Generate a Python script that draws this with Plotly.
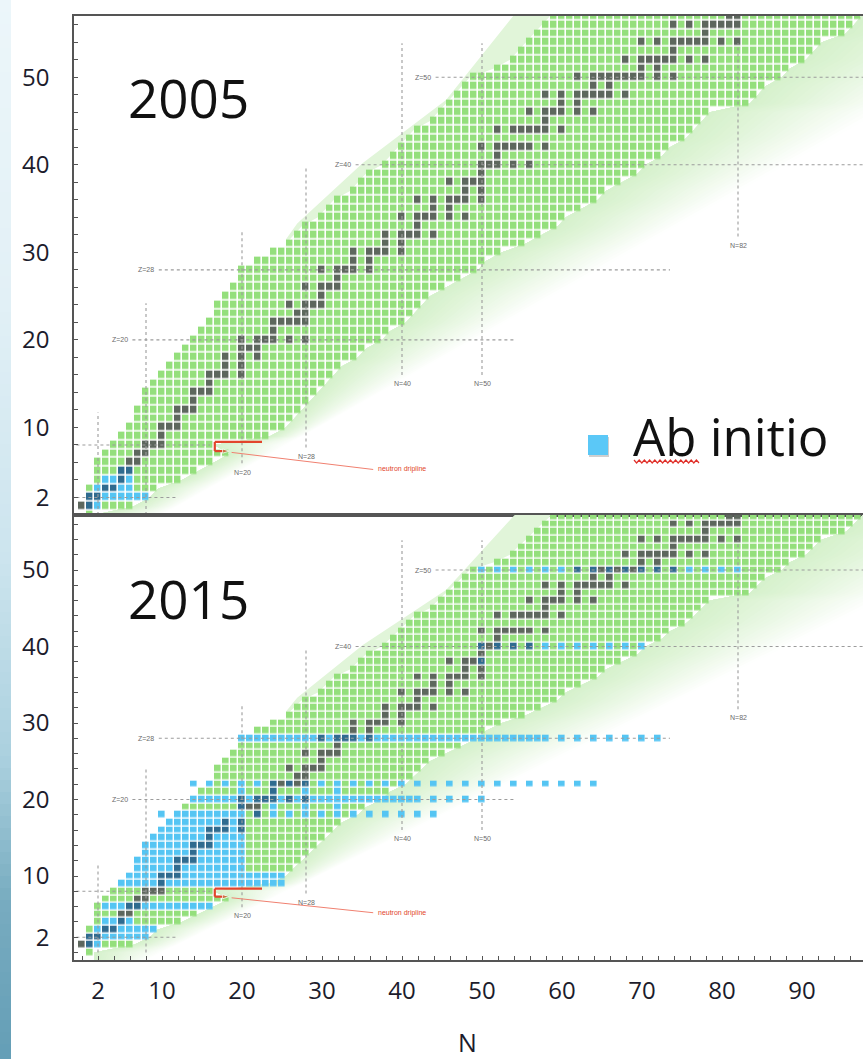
import plotly.graph_objects as go

FIG_W, FIG_H = 863, 1059

# ---------------- nuclide chart data ----------------
# proton number of each row of the chart
Z_VALUES = list(range(58))

# lightest / heaviest known neutron number for each Z
N_MIN = [1, 0, 1, 1, 2, 2, 2, 3, 4, 5, 6, 7, 7, 8, 8, 9, 10, 11, 12, 13,
         14, 15, 16, 17, 17, 18, 19, 20, 20, 22, 24, 26, 27, 28, 30, 31, 32, 34, 35, 36,
         38, 39, 40, 41, 42, 44, 45, 46, 47, 48, 49, 52, 54, 55, 56, 57, 58, 59]
N_MAX = [1, 6, 8, 9, 12, 14, 16, 18, 16, 23, 25, 26, 27, 28, 29, 30, 31, 32, 34, 35,
         37, 38, 40, 41, 42, 43, 45, 47, 49, 50, 52, 55, 57, 59, 60, 62, 64, 65, 67, 69,
         70, 72, 73, 75, 76, 77, 78, 83, 84, 85, 87, 88, 90, 91, 92, 95, 96, 97]

# stable isotopes: neutron numbers per Z
STABLE_N = [
    [],                                         # n
    [0, 1],                                     # H
    [1, 2],                                     # He
    [3, 4],                                     # Li
    [5],                                        # Be
    [5, 6],                                     # B
    [6, 7],                                     # C
    [7, 8],                                     # N
    [8, 9, 10],                                 # O
    [10],                                       # F
    [10, 11, 12],                               # Ne
    [12],                                       # Na
    [12, 13, 14],                               # Mg
    [14],                                       # Al
    [14, 15, 16],                               # Si
    [16],                                       # P
    [16, 17, 18, 20],                           # S
    [18, 20],                                   # Cl
    [18, 20, 22],                               # Ar
    [20, 21, 22],                               # K
    [20, 22, 23, 24, 26, 28],                   # Ca
    [24],                                       # Sc
    [24, 25, 26, 27, 28],                       # Ti
    [27, 28],                                   # V
    [26, 28, 29, 30],                           # Cr
    [30],                                       # Mn
    [28, 30, 31, 32],                           # Fe
    [32],                                       # Co
    [30, 32, 33, 34, 36],                       # Ni
    [34, 36],                                   # Cu
    [34, 36, 37, 38, 40],                       # Zn
    [38, 40],                                   # Ga
    [38, 40, 41, 42, 44],                       # Ge
    [42],                                       # As
    [40, 42, 43, 44, 46, 48],                   # Se
    [44, 46],                                   # Br
    [42, 44, 46, 47, 48, 50],                   # Kr
    [48, 50],                                   # Rb
    [46, 48, 49, 50],                           # Sr
    [50],                                       # Y
    [50, 51, 52, 54, 56],                       # Zr
    [52],                                       # Nb
    [50, 52, 53, 54, 55, 56, 58],               # Mo
    [],                                         # Tc
    [52, 54, 55, 56, 57, 58, 60],               # Ru
    [58],                                       # Rh
    [56, 58, 59, 60, 62, 64],                   # Pd
    [60, 62],                                   # Ag
    [58, 60, 62, 63, 64, 65, 66, 68],           # Cd
    [64, 66],                                   # In
    [62, 64, 65, 66, 67, 68, 69, 70, 72, 74],   # Sn
    [70, 72],                                   # Sb
    [68, 70, 71, 72, 73, 74, 76, 78],           # Te
    [74],                                       # I
    [70, 72, 74, 75, 76, 77, 78, 80, 82],       # Xe
    [78],                                       # Cs
    [74, 76, 78, 79, 80, 81, 82],               # Ba
    [81, 82],                                   # La
]

# ab initio coverage, as runs of cells: row Z, first N, last N, step in N
AB2005_Z = [1, 2, 3, 4, 5]
AB2005_N0 = [1, 1, 2, 3, 5]
AB2005_N1 = [2, 8, 6, 6, 6]
AB2005_STEP = [1, 1, 1, 1, 1]

AB2015_Z = [1, 2, 3, 4, 6, 9, 10, 11, 12, 13, 14, 15, 16, 17,
            18, 18, 19, 20, 20, 21, 22, 28, 28, 38, 40, 50]
AB2015_N0 = [1, 1, 2, 3, 3, 5, 6, 7, 7, 8, 8, 9, 10, 11,
             10, 12, 20, 14, 44, 20, 14, 20, 60, 50, 50, 50]
AB2015_N1 = [2, 8, 9, 6, 16, 25, 25, 20, 20, 20, 20, 20, 20, 20,
             44, 20, 32, 42, 50, 32, 64, 58, 72, 50, 70, 82]
AB2015_STEP = [1, 1, 1, 1, 1, 1, 1, 1, 1, 1, 1, 1, 1, 1,
               2, 1, 4, 1, 2, 4, 2, 1, 2, 1, 2, 2]

# magic-number guide lines
MAGIC_H_Z = [2, 8, 20, 28, 40, 50]
MAGIC_H_N0 = [-0.7, -0.7, 6.3, 9.6, 34.2, 44.2]
MAGIC_H_N1 = [12.0, 16.0, 54.0, 73.5, 99.0, 99.0]
MAGIC_H_LABEL = ["", "", "Z=20", "Z=28", "Z=40", "Z=50"]

MAGIC_V_N = [2, 8, 20, 28, 40, 50, 82]
MAGIC_V_Z0 = [0.0, 0.0, 5.9, 7.7, 16.0, 16.0, 31.8]
MAGIC_V_Z1 = [11.7, 24.2, 32.3, 39.6, 53.9, 53.9, 53.9]
MAGIC_V_LABEL = ["", "", "N=20", "N=28", "N=40", "N=50", "N=82"]

# neutron drip-line marker around oxygen
DRIP_N = [22.5, 16.6, 16.6, 18.4]
DRIP_Z = [8.35, 8.35, 7.3, 7.3]
DRIP_LEADER_N = [18.7, 36.4]
DRIP_LEADER_Z = [7.15, 5.2]

# edge of the predicted (unknown) region
PROTON_BAND_N = [25.5, 26.9, 35.1, 45.5, 53.9, 57.0]
PROTON_BAND_Z = [31.5, 33.3, 40.2, 47.4, 57.0, 60.0]
FAR_EDGE_N = [10.0, 127.0]
FAR_EDGE_Z = [0.0, 60.0]

N_TICKS = [2, 10, 20, 30, 40, 50, 60, 70, 80, 90]
Z_TICKS = [2, 10, 20, 30, 40, 50]

# ---------------- styling ----------------
GREEN = "#94df7c"
STABLE = "#5d675d"
BLUE = "#55c5f3"
BLUE_STABLE = "#2f6b8f"
GUIDE = "#9c9c9c"
RED = "#e2452c"
AXIS = "#555555"
TEXT = "#1c1c2c"
FONT = "Open Sans"

N_SIZE = 98  # columns 0..97


def build_grid(ab_z, ab_n0, ab_n1, ab_step):
    grid = [[None] * N_SIZE for _ in Z_VALUES]
    for z in Z_VALUES:
        for n in range(N_MIN[z], N_MAX[z] + 1):
            grid[z][n] = 1
        for n in STABLE_N[z]:
            grid[z][n] = 2
    for z, a, b, s in zip(ab_z, ab_n0, ab_n1, ab_step):
        for n in range(a, b + 1, s):
            grid[z][n] = 4 if grid[z][n] == 2 else 3
    return grid


def far_n(z):
    t = (z - FAR_EDGE_Z[0]) / (FAR_EDGE_Z[1] - FAR_EDGE_Z[0])
    return FAR_EDGE_N[0] + t * (FAR_EDGE_N[1] - FAR_EDGE_N[0])


def path(points):
    return "M " + " L ".join(f"{x:.3f},{y:.3f}" for x, y in points) + " Z"


def background_shapes(xref, yref):
    shapes = []
    # neutron-rich side: soft green fading towards the far edge
    zs = [-1.5] + Z_VALUES + [58.5]
    near = [N_MAX[0] + 0.5] + [N_MAX[z] + 0.5 for z in Z_VALUES] + [N_MAX[-1] + 1.5]
    far = [far_n(z) for z in zs]
    steps = 24
    c0 = (214, 241, 204)
    for k in range(steps, 0, -1):
        f = k / steps
        edge = [nr + (fr - nr) * f for nr, fr in zip(near, far)]
        pts = list(zip(near, zs)) + list(zip(edge, zs))[::-1]
        mix = (k - 0.5) / steps
        col = tuple(round(c + (255 - c) * mix ** 1.15) for c in c0)
        shapes.append(dict(type="path", path=path(pts), xref=xref, yref=yref,
                           fillcolor=f"rgb{col}", line=dict(width=0), layer="below"))
    # proton-rich side: pale band
    inner = [(N_MIN[z] - 0.5, z) for z in range(57, 30, -1)]
    pts = list(zip(PROTON_BAND_N, PROTON_BAND_Z)) + [(62.0, 60.0)] + inner
    shapes.append(dict(type="path", path=path(pts), xref=xref, yref=yref,
                       fillcolor="#e1f5d9", line=dict(width=0), layer="below"))
    return shapes


fig = go.Figure()

colorscale = [[0.0, GREEN], [0.25, GREEN], [0.25, STABLE], [0.5, STABLE],
              [0.5, BLUE], [0.75, BLUE], [0.75, BLUE_STABLE], [1.0, BLUE_STABLE]]

panels = [
    ("x", "y", build_grid(AB2005_Z, AB2005_N0, AB2005_N1, AB2005_STEP), 1.6),
    ("x2", "y2", build_grid(AB2015_Z, AB2015_N0, AB2015_N1, AB2015_STEP), 1.4),
]

shapes = []
annotations = []
for xa, ya, grid, gap in panels:
    fig.add_trace(go.Heatmap(
        x=list(range(N_SIZE)), y=Z_VALUES, z=grid, xaxis=xa, yaxis=ya,
        colorscale=colorscale, zmin=0.5, zmax=4.5, showscale=False,
        xgap=gap, ygap=gap, hoverinfo="skip"))
    shapes += background_shapes(xa, ya)

    for z, n0, n1, lab in zip(MAGIC_H_Z, MAGIC_H_N0, MAGIC_H_N1, MAGIC_H_LABEL):
        fig.add_trace(go.Scatter(x=[n0, n1], y=[z, z], mode="lines", xaxis=xa, yaxis=ya,
                                 line=dict(color=GUIDE, width=1.1, dash="3px,3px"),
                                 hoverinfo="skip", showlegend=False))
        if lab:
            annotations.append(dict(x=n0 - 0.3, y=z, xref=xa, yref=ya, text=lab,
                                    showarrow=False, xanchor="right", yanchor="middle",
                                    font=dict(size=7, color="#6a6a6a", family="Arial")))
    for n, z0, z1, lab in zip(MAGIC_V_N, MAGIC_V_Z0, MAGIC_V_Z1, MAGIC_V_LABEL):
        fig.add_trace(go.Scatter(x=[n, n], y=[z0, z1], mode="lines", xaxis=xa, yaxis=ya,
                                 line=dict(color=GUIDE, width=1.1, dash="3px,3px"),
                                 hoverinfo="skip", showlegend=False))
        if lab:
            annotations.append(dict(x=n, y=z0 - 0.4, xref=xa, yref=ya, text=lab,
                                    showarrow=False, xanchor="center", yanchor="top",
                                    font=dict(size=7, color="#6a6a6a", family="Arial")))

    fig.add_trace(go.Scatter(x=DRIP_LEADER_N, y=DRIP_LEADER_Z, mode="lines",
                             xaxis=xa, yaxis=ya, line=dict(color="#f08070", width=1),
                             hoverinfo="skip", showlegend=False))
    fig.add_trace(go.Scatter(x=DRIP_N, y=DRIP_Z, mode="lines+markers", xaxis=xa, yaxis=ya,
                             line=dict(color=RED, width=2.2),
                             marker=dict(symbol="arrow", angleref="previous",
                                         size=[0, 0, 0, 7], color=RED),
                             hoverinfo="skip", showlegend=False))
    annotations.append(dict(x=DRIP_LEADER_N[1] + 0.3, y=DRIP_LEADER_Z[1], xref=xa, yref=ya,
                            text="neutron dripline", showarrow=False, xanchor="left",
                            yanchor="middle", font=dict(size=7, color=RED, family="Arial")))


def px_x(p):
    return p / FIG_W


def px_y(p):
    return 1 - p / FIG_H


TOP_Y0, TOP_Y1 = 16, 515
BOT_Y0, BOT_Y1 = 515, 960
PLOT_X0 = 74

axis_common = dict(showgrid=False, zeroline=False, showline=True, linecolor=AXIS,
                   linewidth=1.5, ticks="inside", ticklen=4, tickcolor=AXIS,
                   tickfont=dict(family=FONT, size=24, color=TEXT))

x_range = [-1.0, -1.0 + (FIG_W - PLOT_X0) / 8.0]

fig.update_layout(
    width=FIG_W, height=FIG_H, margin=dict(l=0, r=0, t=0, b=0),
    paper_bgcolor="white", plot_bgcolor="white", showlegend=False,
    xaxis=dict(axis_common, domain=[px_x(PLOT_X0), 1], range=x_range, anchor="y",
               showticklabels=False, ticks="", mirror=True),
    yaxis=dict(axis_common, domain=[px_y(TOP_Y1), px_y(TOP_Y0)], range=[0, 57],
               anchor="x", tickvals=Z_TICKS, ticklabelstandoff=18,
               minor=dict(tickmode="linear", tick0=0, dtick=2, ticks="inside",
                          ticklen=4, tickcolor=AXIS)),
    xaxis2=dict(axis_common, domain=[px_x(PLOT_X0), 1], range=x_range, anchor="y2",
                tickvals=N_TICKS, ticklabelstandoff=8, mirror=True,
                minor=dict(tickmode="linear", tick0=0, dtick=2, ticks="inside",
                           ticklen=4, tickcolor=AXIS)),
    yaxis2=dict(axis_common, domain=[px_y(BOT_Y1), px_y(BOT_Y0)],
                range=[-0.98, 57.19], anchor="x2", tickvals=Z_TICKS, ticklabelstandoff=18,
                minor=dict(tickmode="linear", tick0=0, dtick=2, ticks="inside",
                           ticklen=4, tickcolor=AXIS)),
)

# slide edge on the far left
STRIP_STOPS_Y = [0, 300, 560, 760, 900, 1059]
STRIP_STOPS_RGB = [(236, 246, 250), (226, 240, 246), (204, 228, 238),
                   (170, 208, 222), (120, 172, 192), (100, 158, 182)]
seg = 12
for i in range(0, FIG_H, seg):
    yy = i + seg / 2
    for j in range(len(STRIP_STOPS_Y) - 1):
        if STRIP_STOPS_Y[j] <= yy <= STRIP_STOPS_Y[j + 1]:
            t = (yy - STRIP_STOPS_Y[j]) / (STRIP_STOPS_Y[j + 1] - STRIP_STOPS_Y[j])
            a, b = STRIP_STOPS_RGB[j], STRIP_STOPS_RGB[j + 1]
            col = tuple(round(a[k] + (b[k] - a[k]) * t) for k in range(3))
            break
    shapes.append(dict(type="rect", xref="paper", yref="paper", x0=0, x1=px_x(11),
                       y0=px_y(min(i + seg + 1, FIG_H)), y1=px_y(i), fillcolor=f"rgb{col}",
                       line=dict(width=0), layer="below"))

# legend key
shapes.append(dict(type="rect", xref="paper", yref="paper", x0=px_x(589), x1=px_x(609),
                   y0=px_y(457), y1=px_y(437), fillcolor="#cfcfcf", line=dict(width=0)))
shapes.append(dict(type="rect", xref="paper", yref="paper", x0=px_x(588), x1=px_x(608),
                   y0=px_y(455), y1=px_y(435), fillcolor="#5bc8f7", line=dict(width=0)))
# spell-check squiggle under "Ab"
wave = []
xw = 634.0
up = True
while xw <= 701:
    wave.append((px_x(xw), px_y(460.0 if up else 463.0)))
    up = not up
    xw += 2.6
shapes.append(dict(type="path", xref="paper", yref="paper",
                   path="M " + " L ".join(f"{a:.5f},{b:.5f}" for a, b in wave),
                   line=dict(color="#e0302a", width=1.2)))

annotations += [
    dict(x=px_x(188), y=px_y(97), xref="paper", yref="paper", text="2005", showarrow=False,
         xanchor="center", yanchor="middle", font=dict(family=FONT, size=53, color="#111111")),
    dict(x=px_x(188), y=px_y(598), xref="paper", yref="paper", text="2015", showarrow=False,
         xanchor="center", yanchor="middle", font=dict(family=FONT, size=53, color="#111111")),
    dict(x=px_x(631), y=px_y(436), xref="paper", yref="paper", text="Ab initio",
         showarrow=False, xanchor="left", yanchor="middle",
         font=dict(family=FONT, size=51, color="#111111")),
    dict(x=px_x(467), y=px_y(1042), xref="paper", yref="paper", text="N", showarrow=False,
         xanchor="center", yanchor="middle", font=dict(family=FONT, size=25, color=TEXT)),
]

fig.update_layout(shapes=shapes, annotations=annotations)
fig.write_html("out.html")
